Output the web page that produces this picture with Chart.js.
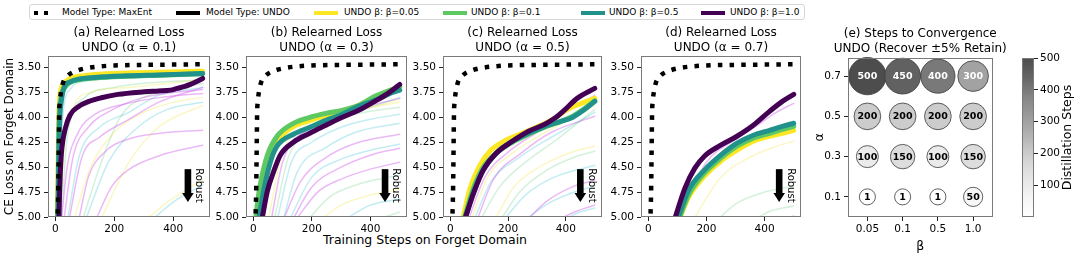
<!DOCTYPE html>
<html><head><meta charset="utf-8">
<script src="https://cdn.jsdelivr.net/npm/chart.js@4.4.1/dist/chart.umd.min.js"></script>
<style>
body{margin:0;width:1079px;height:254px;background:#fff;overflow:hidden;position:relative;font-family:"DejaVu Sans",sans-serif;color:#000}
canvas{position:absolute}
#legend{position:absolute;left:29px;top:4px;width:776px;height:16px;border:1px solid #d6d6d6;border-radius:3px;box-sizing:border-box;font-size:9px}
#legend .sw{position:absolute;top:6px;height:4px;width:24px}
#legend .dot{position:absolute;top:6px;width:4px;height:4px;background:#000}
#legend .tx{position:absolute;top:1px;line-height:13px;white-space:nowrap}
#xlabel{position:absolute;left:225px;width:400px;top:232px;text-align:center;font-size:12.5px;line-height:15px}
</style>
</head><body>
<div id="legend"></div>
<div id="xlabel">Training Steps on Forget Domain</div>
<script>
// ---------------- DATA ----------------
const legendLabels = ['Model Type: MaxEnt','Model Type: UNDO','UNDO β: β=0.05','UNDO β: β=0.1','UNDO β: β=0.5','UNDO β: β=1.0'];
const panelTitles = [
  ['(a) Relearned Loss','UNDO (α = 0.1)'],
  ['(b) Relearned Loss','UNDO (α = 0.3)'],
  ['(c) Relearned Loss','UNDO (α = 0.5)'],
  ['(d) Relearned Loss','UNDO (α = 0.7)']
];
const heatTitle = ['(e) Steps to Convergence','UNDO (Recover ±5% Retain)'];
const stepTicks = [0,200,400];
const lossTicks = [3.5,3.75,4.0,4.25,4.5,4.75,5.0];
const robustArrow = [450, 4.52, 4.85]; // step, from loss, to loss

// MaxEnt baseline [step, CE loss]
const maxEnt = [[5,5.2],[8,4.95],[10,4.7],[11,4.45],[12,4.2],[13,3.96],[15,3.85],[19,3.75],[27,3.645],[40,3.59],[52,3.56],[75,3.53],[100,3.51],[140,3.492],[200,3.48],[300,3.474],[400,3.471],[500,3.468]];

// Panel (a) alpha = 0.1
const a_b005 = [[6,5.2],[9,4.6],[11,4.05],[14,3.85],[17,3.75],[22,3.69],[28,3.66],[40,3.63],[50,3.61],[78,3.59],[134,3.57],[246,3.555],[350,3.548],[500,3.537]];
const a_b01  = [[7,5.2],[10,4.6],[12,4.15],[15,3.9],[20,3.8],[28,3.72],[50,3.65],[78,3.625],[134,3.605],[246,3.588],[350,3.578],[500,3.562]];
const a_b05  = [[8,5.2],[11,4.6],[13,4.21],[16,3.95],[20,3.84],[28,3.71],[50,3.644],[78,3.617],[134,3.6],[246,3.584],[350,3.575],[500,3.56]];
const a_b10  = [[11,5.2],[14,4.8],[17,4.54],[22,4.31],[34,4.11],[50,3.977],[78,3.893],[112,3.843],[156,3.804],[212,3.77],[302,3.744],[350,3.735],[391,3.727],[413,3.71],[440,3.69],[458,3.67],[480,3.64],[500,3.61]];
const a_faintMagenta = [
  [[134,5.05],[190,4.7],[246,4.53],[358,4.38],[500,4.28]],
  [[78,5.05],[112,4.6],[167,4.35],[246,4.22],[358,4.16],[500,4.13]],
  [[20,5.05],[40,4.5],[78,4.15],[134,3.97],[246,3.86],[358,3.8],[500,3.76]],
  [[28,5.05],[60,4.4],[112,4.1],[190,3.93],[300,3.8],[500,3.72]],
  [[45,5.05],[90,4.4],[150,4.2],[250,4.02],[350,3.85],[500,3.7]]
];
const a_faintYellow = [
  [[15,5.05],[30,4.3],[60,3.9],[120,3.75],[250,3.7],[500,3.62]],
  [[60,5.05],[120,4.5],[200,4.15],[300,3.95],[400,3.85],[500,3.8]],
  [[300,5.05],[380,4.85],[450,4.72],[500,4.63]],
  [[150,5.05],[250,4.45],[350,4.1],[500,3.88]]
];
const a_faintCyan = [
  [[40,5.05],[80,4.4],[150,4.1],[250,3.95],[350,3.78],[500,3.7]],
  [[100,5.05],[180,4.45],[280,4.1],[380,3.92],[500,3.85]],
  [[320,5.05],[400,4.85],[500,4.68]],
  [[12,5.05],[25,4.0],[50,3.72],[100,3.64],[300,3.6],[500,3.57]]
];
const a_faintGreen = [
  [[20,5.05],[40,4.2],[100,3.8],[200,3.7],[500,3.62]],
  [[90,5.05],[150,4.5],[220,4.0],[300,3.8],[400,3.72],[500,3.66]]
];

// Panel (b) alpha = 0.3
const b_b005 = [[14,5.0],[31,4.64],[53,4.38],[81,4.23],[137,4.09],[193,4.03],[248,3.98],[304,3.94],[360,3.88],[415,3.8],[460,3.74],[500,3.70]];
const b_b01  = [[9,5.0],[15,4.84],[26,4.64],[48,4.38],[81,4.19],[137,4.06],[193,4.0],[248,3.96],[304,3.93],[360,3.88],[415,3.79],[460,3.737],[500,3.69]];
const b_b05  = [[20,5.0],[37,4.71],[59,4.44],[81,4.29],[137,4.17],[193,4.1],[248,4.03],[304,3.97],[360,3.89],[415,3.83],[460,3.77],[500,3.727]];
const b_b10  = [[31,5.0],[48,4.74],[70,4.54],[92,4.38],[137,4.25],[193,4.16],[248,4.08],[304,4.0],[360,3.93],[415,3.84],[460,3.76],[500,3.67]];
const b_faintMagenta = [
  [[60,5.05],[100,4.45],[200,4.1],[300,3.95],[400,3.88],[500,3.81]],
  [[100,5.05],[160,4.65],[250,4.4],[350,4.26],[500,4.17]],
  [[130,5.05],[200,4.7],[300,4.5],[400,4.38],[500,4.31]],
  [[140,5.05],[220,4.75],[300,4.62],[400,4.52],[500,4.45]]
];
const b_faintYellow = [
  [[50,5.05],[100,4.35],[200,4.08],[300,3.97],[400,3.9],[500,3.85]],
  [[220,5.05],[300,4.88],[400,4.78],[500,4.72]],
  [[15,5.05],[40,4.5],[100,4.2],[200,4.05],[300,3.97],[400,3.9],[500,3.82]]
];
const b_faintCyan = [
  [[80,5.05],[130,4.45],[200,4.25],[300,4.1],[400,4.02],[500,3.97]],
  [[100,5.05],[150,4.55],[250,4.3],[350,4.15],[500,4.06]],
  [[120,5.05],[200,4.6],[300,4.42],[400,4.33],[500,4.27]],
  [[300,5.05],[400,4.88],[500,4.82]],
  [[30,5.05],[70,4.5],[150,4.2],[250,4.05],[350,3.95],[500,3.8]]
];
const b_faintGreen = [
  [[70,5.05],[120,4.4],[200,4.15],[300,4.0],[400,3.94],[500,3.9]],
  [[180,5.05],[260,4.8],[350,4.68],[500,4.58]],
  [[400,5.05],[500,4.95]]
];

// Panel (c) alpha = 0.5
const c_b005 = [[45,5.0],[69,4.71],[103,4.48],[137,4.34],[193,4.23],[249,4.16],[305,4.09],[361,4.01],[394,3.94],[439,3.877],[500,3.81]];
const c_b01  = [[50,5.0],[78,4.73],[110,4.52],[159,4.36],[215,4.25],[271,4.17],[327,4.1],[383,4.04],[417,4.0],[461,3.92],[500,3.835]];
const c_b05  = [[53,5.0],[81,4.74],[114,4.53],[159,4.36],[215,4.24],[271,4.16],[327,4.09],[383,4.04],[417,4.01],[461,3.93],[500,3.84]];
const c_b10  = [[53,5.0],[81,4.76],[114,4.53],[159,4.36],[215,4.24],[271,4.14],[327,4.07],[361,4.01],[394,3.93],[439,3.81],[500,3.71]];
const c_faintMagenta = [
  [[60,5.05],[120,4.6],[200,4.35],[300,4.15],[400,3.95],[500,3.78]],
  [[90,5.05],[150,4.62],[250,4.35],[350,4.15],[500,3.99]],
  [[260,5.05],[330,4.85],[420,4.7],[500,4.63]],
  [[360,5.05],[430,4.95],[500,4.88]]
];
const c_faintYellow = [
  [[70,5.05],[130,4.6],[220,4.35],[330,4.15],[500,3.88]],
  [[150,5.05],[220,4.7],[320,4.48],[420,4.35],[500,4.29]]
];
const c_faintCyan = [
  [[80,5.05],[140,4.65],[240,4.4],[350,4.2],[500,3.95]],
  [[180,5.05],[260,4.78],[360,4.6],[500,4.48]],
  [[250,5.05],[330,4.88],[420,4.76],[500,4.69]],
  [[380,5.05],[440,4.96],[500,4.91]]
];
const c_faintGreen = [
  [[100,5.05],[170,4.7],[260,4.45],[370,4.22],[500,3.92]],
  [[170,5.05],[240,4.75],[340,4.52],[430,4.4],[500,4.34]]
];

// Panel (d) alpha = 0.7
const d_b005 = [[110,5.0],[137,4.81],[193,4.59],[249,4.44],[305,4.33],[361,4.24],[417,4.19],[461,4.16],[500,4.13]];
const d_b01  = [[108,5.0],[140,4.77],[193,4.56],[249,4.41],[305,4.29],[361,4.21],[417,4.16],[461,4.12],[500,4.09]];
const d_b05  = [[104,5.0],[137,4.74],[193,4.53],[249,4.38],[305,4.26],[361,4.18],[417,4.13],[461,4.09],[500,4.06]];
const d_b10  = [[93,5.0],[126,4.71],[160,4.51],[193,4.39],[249,4.28],[305,4.19],[361,4.08],[417,3.94],[461,3.84],[500,3.77]];
const d_faintMagenta = [
  [[95,5.05],[200,4.45],[300,4.22],[380,4.07],[440,3.95],[500,3.86]],
  [[460,5.05],[500,4.99]]
];
const d_faintYellow = [
  [[150,5.05],[250,4.6],[350,4.4],[430,4.3],[500,4.24]]
];
const d_faintCyan = [];
const d_faintGreen = [
  [[230,5.05],[300,4.87],[400,4.75],[500,4.69]],
  [[350,5.05],[420,4.94],[500,4.89]]
];

// Panel (e): steps to convergence
const betaLabels = ['0.05','0.1','0.5','1.0'];
const alphaLabels = ['0.1','0.3','0.5','0.7'];
const convergenceSteps = [   // rows: alpha 0.1, 0.3, 0.5, 0.7 ; cols: beta
  [1,1,1,50],
  [100,150,100,150],
  [200,200,200,200],
  [500,450,400,300]
];
const colorbarTicks = [100,200,300,400,500];

// ---------------- STYLE / RENDER ----------------
Chart.defaults.font.family = "'DejaVu Sans', sans-serif";
Chart.defaults.color = '#000';
Chart.defaults.animation = false;
Chart.defaults.responsive = false;
Chart.defaults.events = [];
Chart.defaults.plugins.legend.display = false;
Chart.defaults.plugins.tooltip.enabled = false;

const C = {maxent:'#000000', undo:'#000000', b005:'#fde725', b01:'#5ec962', b05:'#21918c', b10:'#440154'};
const FAINT = {magenta:'rgba(200,60,230,0.36)', yellow:'rgba(240,225,40,0.27)', cyan:'rgba(40,190,210,0.28)', green:'rgba(80,200,110,0.25)'};
const TICK_FONT = 10.5;

// legend
(function(){
  const lg = document.getElementById('legend');
  const items = [
    {kind:'dots', sw:4, tx:32},
    {kind:'line', color:C.undo, sw:146, tx:176},
    {kind:'line', color:C.b005, sw:284, tx:314},
    {kind:'line', color:C.b01, sw:413, tx:441},
    {kind:'line', color:C.b05, sw:551, tx:579},
    {kind:'line', color:C.b10, sw:671, tx:700}
  ];
  items.forEach((it,i)=>{
    if(it.kind==='dots'){
      [0,10].forEach(o=>{const d=document.createElement('div');d.className='dot';d.style.left=(it.sw+o)+'px';lg.appendChild(d);});
    } else {
      const s=document.createElement('div');s.className='sw';s.style.left=it.sw+'px';s.style.background=it.color;lg.appendChild(s);
    }
    const t=document.createElement('div');t.className='tx';t.style.left=it.tx+'px';t.textContent=legendLabels[i];lg.appendChild(t);
  });
})();

function mkCanvas(left, top, w, h){
  const c=document.createElement('canvas');
  c.width=w;c.height=h;c.style.left=left+'px';c.style.top=top+'px';
  document.body.appendChild(c);return c;
}
const framePlugin = {id:'frame', afterDatasetsDraw(chart){
  const a=chart.chartArea, ctx=chart.ctx; ctx.save();
  ctx.strokeStyle='#7a7a7a'; ctx.lineWidth=1;
  ctx.strokeRect(Math.round(a.left)+0.5, Math.round(a.top)+0.5, Math.round(a.right-a.left)-1, Math.round(a.bottom-a.top)-1);
  ctx.restore();
}};
// two-line title centred over the plot area (like matplotlib axes titles)
const areaTitlePlugin = {id:'areaTitle', afterDraw(chart, args, opts){
  if(!opts || !opts.text) return;
  const a=chart.chartArea, ctx=chart.ctx, cx=(a.left+a.right)/2; ctx.save();
  ctx.font="12px 'DejaVu Sans'"; ctx.fillStyle='#000'; ctx.textAlign='center'; ctx.textBaseline='middle';
  opts.text.forEach((t,i)=>ctx.fillText(t, cx, a.top - opts.gap - (opts.text.length-1-i)*opts.lineH));
  ctx.restore();
}};
const robustPlugin = {id:'robust', afterDatasetsDraw(chart){
  const x=chart.scales.x.getPixelForValue(robustArrow[0]);
  const y1=chart.scales.y.getPixelForValue(robustArrow[1]);
  const y2=chart.scales.y.getPixelForValue(robustArrow[2]);
  const ctx=chart.ctx; ctx.save(); ctx.fillStyle='#000';
  ctx.fillRect(x-3.3, y1, 6.6, (y2-y1)-8);
  ctx.beginPath(); ctx.moveTo(x-5.8, y2-9); ctx.lineTo(x+5.8, y2-9); ctx.lineTo(x, y2); ctx.closePath(); ctx.fill();
  ctx.translate(x+6, y1-1); ctx.rotate(Math.PI/2);
  ctx.font="10px 'DejaVu Sans'"; ctx.textAlign='left'; ctx.textBaseline='bottom';
  ctx.fillText('Robust', 0, 0);
  ctx.restore();
}};

function lineDs(points, color, width, order, dash){
  return {data: points.map(p=>({x:p[0], y:p[1]})), borderColor: color, backgroundColor: color,
    borderWidth: width, pointRadius: 0, fill:false, order: order, borderDash: dash||[],
    cubicInterpolationMode:'monotone', borderJoinStyle:'round', borderCapStyle: dash?'butt':'round', clip: 0};
}

function linePanel(o){
  const cv = mkCanvas(o.left, 24, o.width, 230);
  const ds = [];
  ds.push(lineDs(maxEnt, C.maxent, 4.5, 0, [4.5,7.2]));
  ds.push(lineDs(o.b10, C.b10, 5, 1));
  ds.push(lineDs(o.b05, C.b05, 5, 2));
  ds.push(lineDs(o.b01, C.b01, 5, 3));
  ds.push(lineDs(o.b005, C.b005, 5, 4));
  o.fm.forEach(p=>ds.push(lineDs(p, FAINT.magenta, 1.5, 10)));
  o.fy.forEach(p=>ds.push(lineDs(p, FAINT.yellow, 1.5, 10)));
  o.fc.forEach(p=>ds.push(lineDs(p, FAINT.cyan, 1.5, 10)));
  o.fg.forEach(p=>ds.push(lineDs(p, FAINT.green, 1.5, 10)));
  new Chart(cv, {type:'line', data:{datasets: ds}, options:{
    layout:{padding:{left:0, right:o.rightPad, top:32, bottom:0}},
    plugins:{title:{display:false}, areaTitle:{text:o.title, gap:8, lineH:15}},
    scales:{
      x:{type:'linear', min:-25, max:525,
         afterBuildTicks:s=>{s.ticks=stepTicks.map(v=>({value:v}));},
         ticks:{font:{size:TICK_FONT}, padding:2, maxRotation:0, autoSkip:false, callback:v=>String(v)},
         grid:{drawOnChartArea:false, drawTicks:true, tickLength:4, color:'#222'}, border:{display:false},
         afterFit:s=>{s.height=37;}},
      y:{type:'linear', reverse:true, min:3.385, max:5.0,
         afterBuildTicks:s=>{s.ticks=lossTicks.map(v=>({value:v}));},
         ticks:{font:{size:TICK_FONT}, padding:3, autoSkip:false, callback:v=>Number(v).toFixed(2)},
         grid:{drawOnChartArea:false, drawTicks:true, tickLength:4, color:'#222'}, border:{display:false},
         title:o.yTitle?{display:true, text:o.yTitle, font:{size:12}, padding:{top:3,bottom:0}, color:'#000'}:{display:false},
         afterFit:s=>{s.width=o.yW;}}
    }
  }, plugins:[framePlugin, robustPlugin, areaTitlePlugin]});
}

linePanel({left:0, width:213, yW:48, rightPad:3, title:panelTitles[0], yTitle:'CE Loss on Forget Domain',
  b005:a_b005, b01:a_b01, b05:a_b05, b10:a_b10, fm:a_faintMagenta, fy:a_faintYellow, fc:a_faintCyan, fg:a_faintGreen});
linePanel({left:206, width:204, yW:40, rightPad:3, title:panelTitles[1],
  b005:b_b005, b01:b_b01, b05:b_b05, b10:b_b10, fm:b_faintMagenta, fy:b_faintYellow, fc:b_faintCyan, fg:b_faintGreen});
linePanel({left:403, width:202, yW:40, rightPad:3, title:panelTitles[2],
  b005:c_b005, b01:c_b01, b05:c_b05, b10:c_b10, fm:c_faintMagenta, fy:c_faintYellow, fc:c_faintCyan, fg:c_faintGreen});
linePanel({left:601, width:202, yW:40, rightPad:2, title:panelTitles[3],
  b005:d_b005, b01:d_b01, b05:d_b05, b10:d_b10, fm:d_faintMagenta, fy:d_faintYellow, fc:d_faintCyan, fg:d_faintGreen});

// greys colormap with alpha 0.7 over white
const GREYS = [255,240,217,189,150,115,82,37,0];
function greyLevel(t){
  t=Math.max(0,Math.min(1,t)); const f=t*8, i=Math.min(7,Math.floor(f)), r=f-i;
  const g=GREYS[i]+(GREYS[i+1]-GREYS[i])*r; return Math.round(255*0.3+g*0.7);
}
const VMIN=1, VMAX=500;
function greyColor(v){const g=greyLevel((v-VMIN)/(VMAX-VMIN)); return `rgb(${g},${g},${g})`;}
function bubbleRadius(v){return Math.sqrt(64 + 0.57*v);}

const bubbles=[];
convergenceSteps.forEach((row,i)=>row.forEach((v,j)=>bubbles.push({x:j, y:i, v:v})));

const hcv = mkCanvas(812, 24, 200, 230);
new Chart(hcv, {type:'bubble', data:{datasets:[{data:bubbles,
    backgroundColor:ctx=>ctx.raw?greyColor(ctx.raw.v):'#ccc',
    borderColor:'#3a3a3a', borderWidth:0.8,
    radius:ctx=>ctx.raw?bubbleRadius(ctx.raw.v):5, clip:false}]},
  options:{
    layout:{padding:{left:0,right:2,top:34,bottom:0}},
    plugins:{title:{display:false}, areaTitle:{text:heatTitle, gap:9, lineH:15}},
    scales:{
      x:{type:'linear', min:-0.55, max:3.55,
         afterBuildTicks:s=>{s.ticks=betaLabels.map((_,i)=>({value:i}));},
         ticks:{font:{size:TICK_FONT}, padding:2, autoSkip:false, maxRotation:0, callback:v=>betaLabels[v]},
         grid:{drawOnChartArea:false, tickLength:4, color:'#222'}, border:{display:false},
         title:{display:true, text:'β', font:{size:12.5}, padding:{top:0,bottom:0}, color:'#000'},
         afterFit:s=>{s.height=37;}},
      y:{type:'linear', min:-0.5, max:3.45,
         afterBuildTicks:s=>{s.ticks=alphaLabels.map((_,i)=>({value:i}));},
         ticks:{font:{size:TICK_FONT}, padding:3, autoSkip:false, callback:v=>alphaLabels[v]},
         grid:{drawOnChartArea:false, tickLength:4, color:'#222'}, border:{display:false},
         title:{display:true, text:'α', font:{size:12.5}, padding:{top:0,bottom:0}, color:'#000'},
         afterFit:s=>{s.width=36;}}
    }
  },
  plugins:[framePlugin, areaTitlePlugin, {id:'bubbleLabels', afterDatasetsDraw(chart){
    const ctx=chart.ctx, meta=chart.getDatasetMeta(0); ctx.save();
    ctx.font="bold 9.5px 'DejaVu Sans'"; ctx.textAlign='center'; ctx.textBaseline='middle';
    meta.data.forEach((el,k)=>{const v=bubbles[k].v; ctx.fillStyle=v>=300?'#fff':'#000'; ctx.fillText(String(v), el.x, el.y+0.5);});
    ctx.restore();
  }}]
});

// colorbar
const cbv = mkCanvas(1010, 24, 69, 230);
new Chart(cbv, {type:'scatter', data:{datasets:[{data:[]}]}, options:{
  layout:{padding:{left:12, right:0, top:34, bottom:37}},
  scales:{
    x:{display:false, min:0, max:1},
    y:{type:'linear', position:'right', min:VMIN, max:VMAX,
       afterBuildTicks:s=>{s.ticks=colorbarTicks.map(v=>({value:v}));},
       ticks:{font:{size:TICK_FONT}, padding:2, autoSkip:false},
       grid:{drawOnChartArea:false, tickLength:4, color:'#222'}, border:{display:false},
       afterFit:s=>{s.width=45;}}
  }
}, plugins:[{id:'cbar', beforeDatasetsDraw(chart){
    const a=chart.chartArea, ctx=chart.ctx;
    const g=ctx.createLinearGradient(0,a.bottom,0,a.top);
    for(let k=0;k<=16;k++){const t=k/16; const v=greyLevel(t); g.addColorStop(t,`rgb(${v},${v},${v})`);}
    ctx.save(); ctx.fillStyle=g; ctx.fillRect(a.left,a.top,a.right-a.left,a.bottom-a.top); ctx.restore();
  }}, framePlugin, {id:'cbarTitle', afterDraw(chart){
    const a=chart.chartArea, ctx=chart.ctx; ctx.save();
    ctx.translate(a.right+34, (a.top+a.bottom)/2); ctx.rotate(-Math.PI/2);
    ctx.font="12.5px 'DejaVu Sans'"; ctx.textAlign='center'; ctx.textBaseline='middle'; ctx.fillStyle='#000';
    ctx.fillText('Distillation Steps',0,0); ctx.restore();
  }}]
});
</script>
</body></html>
